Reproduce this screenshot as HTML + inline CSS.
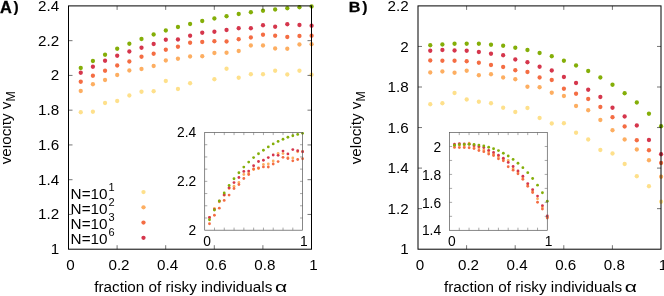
<!DOCTYPE html>
<html><head><meta charset="utf-8"><title>chart</title>
<style>html,body{margin:0;padding:0;background:#fff;}svg{display:block;will-change:transform;}text{font-family:"Liberation Sans", sans-serif;fill:#000;}</style></head><body>
<svg width="664" height="296" viewBox="0 0 664 296">
<rect width="664" height="296" fill="#fff"/>
<defs><clipPath id="clipA"><rect x="2.9" y="0" width="40" height="296"/></clipPath></defs>
<circle cx="80.75" cy="112.25" r="2.15" fill="#fee08b"/>
<circle cx="92.90" cy="111.75" r="2.15" fill="#fee08b"/>
<circle cx="105.05" cy="103.00" r="2.15" fill="#fee08b"/>
<circle cx="117.20" cy="101.00" r="2.15" fill="#fee08b"/>
<circle cx="129.35" cy="95.50" r="2.15" fill="#fee08b"/>
<circle cx="141.50" cy="91.75" r="2.15" fill="#fee08b"/>
<circle cx="153.65" cy="91.25" r="2.15" fill="#fee08b"/>
<circle cx="165.80" cy="81.00" r="2.15" fill="#fee08b"/>
<circle cx="177.95" cy="89.00" r="2.15" fill="#fee08b"/>
<circle cx="190.10" cy="83.25" r="2.15" fill="#fee08b"/>
<circle cx="214.40" cy="79.25" r="2.15" fill="#fee08b"/>
<circle cx="226.55" cy="68.75" r="2.15" fill="#fee08b"/>
<circle cx="238.70" cy="77.75" r="2.15" fill="#fee08b"/>
<circle cx="250.85" cy="74.25" r="2.15" fill="#fee08b"/>
<circle cx="263.00" cy="74.25" r="2.15" fill="#fee08b"/>
<circle cx="275.15" cy="70.75" r="2.15" fill="#fee08b"/>
<circle cx="287.30" cy="74.50" r="2.15" fill="#fee08b"/>
<circle cx="299.45" cy="70.75" r="2.15" fill="#fee08b"/>
<circle cx="311.60" cy="74.75" r="2.15" fill="#fee08b"/>
<circle cx="80.75" cy="91.00" r="2.15" fill="#fdae61"/>
<circle cx="92.90" cy="84.25" r="2.15" fill="#fdae61"/>
<circle cx="105.05" cy="80.00" r="2.15" fill="#fdae61"/>
<circle cx="117.20" cy="75.00" r="2.15" fill="#fdae61"/>
<circle cx="129.35" cy="70.50" r="2.15" fill="#fdae61"/>
<circle cx="141.50" cy="69.00" r="2.15" fill="#fdae61"/>
<circle cx="153.65" cy="66.00" r="2.15" fill="#fdae61"/>
<circle cx="165.80" cy="60.50" r="2.15" fill="#fdae61"/>
<circle cx="177.95" cy="58.75" r="2.15" fill="#fdae61"/>
<circle cx="190.10" cy="56.50" r="2.15" fill="#fdae61"/>
<circle cx="202.25" cy="56.25" r="2.15" fill="#fdae61"/>
<circle cx="214.40" cy="53.00" r="2.15" fill="#fdae61"/>
<circle cx="226.55" cy="52.75" r="2.15" fill="#fdae61"/>
<circle cx="238.70" cy="51.00" r="2.15" fill="#fdae61"/>
<circle cx="250.85" cy="45.50" r="2.15" fill="#fdae61"/>
<circle cx="263.00" cy="45.50" r="2.15" fill="#fdae61"/>
<circle cx="275.15" cy="48.50" r="2.15" fill="#fdae61"/>
<circle cx="287.30" cy="48.75" r="2.15" fill="#fdae61"/>
<circle cx="299.45" cy="44.50" r="2.15" fill="#fdae61"/>
<circle cx="311.60" cy="44.25" r="2.15" fill="#fdae61"/>
<circle cx="80.75" cy="81.75" r="2.15" fill="#f46d43"/>
<circle cx="92.90" cy="75.75" r="2.15" fill="#f46d43"/>
<circle cx="105.05" cy="70.75" r="2.15" fill="#f46d43"/>
<circle cx="117.20" cy="65.50" r="2.15" fill="#f46d43"/>
<circle cx="129.35" cy="61.50" r="2.15" fill="#f46d43"/>
<circle cx="141.50" cy="56.75" r="2.15" fill="#f46d43"/>
<circle cx="153.65" cy="53.75" r="2.15" fill="#f46d43"/>
<circle cx="165.80" cy="49.75" r="2.15" fill="#f46d43"/>
<circle cx="177.95" cy="46.75" r="2.15" fill="#f46d43"/>
<circle cx="190.10" cy="42.75" r="2.15" fill="#f46d43"/>
<circle cx="202.25" cy="42.00" r="2.15" fill="#f46d43"/>
<circle cx="214.40" cy="41.25" r="2.15" fill="#f46d43"/>
<circle cx="226.55" cy="41.50" r="2.15" fill="#f46d43"/>
<circle cx="238.70" cy="39.25" r="2.15" fill="#f46d43"/>
<circle cx="250.85" cy="37.50" r="2.15" fill="#f46d43"/>
<circle cx="263.00" cy="34.75" r="2.15" fill="#f46d43"/>
<circle cx="275.15" cy="35.75" r="2.15" fill="#f46d43"/>
<circle cx="287.30" cy="37.00" r="2.15" fill="#f46d43"/>
<circle cx="299.45" cy="36.00" r="2.15" fill="#f46d43"/>
<circle cx="311.60" cy="35.75" r="2.15" fill="#f46d43"/>
<circle cx="80.75" cy="72.75" r="2.15" fill="#d5364c"/>
<circle cx="92.90" cy="66.75" r="2.15" fill="#d5364c"/>
<circle cx="105.05" cy="60.75" r="2.15" fill="#d5364c"/>
<circle cx="117.20" cy="55.75" r="2.15" fill="#d5364c"/>
<circle cx="129.35" cy="51.50" r="2.15" fill="#d5364c"/>
<circle cx="141.50" cy="47.75" r="2.15" fill="#d5364c"/>
<circle cx="153.65" cy="44.00" r="2.15" fill="#d5364c"/>
<circle cx="165.80" cy="39.75" r="2.15" fill="#d5364c"/>
<circle cx="177.95" cy="39.50" r="2.15" fill="#d5364c"/>
<circle cx="190.10" cy="35.75" r="2.15" fill="#d5364c"/>
<circle cx="202.25" cy="32.75" r="2.15" fill="#d5364c"/>
<circle cx="214.40" cy="31.75" r="2.15" fill="#d5364c"/>
<circle cx="226.55" cy="30.00" r="2.15" fill="#d5364c"/>
<circle cx="238.70" cy="28.25" r="2.15" fill="#d5364c"/>
<circle cx="250.85" cy="28.25" r="2.15" fill="#d5364c"/>
<circle cx="263.00" cy="25.25" r="2.15" fill="#d5364c"/>
<circle cx="275.15" cy="26.75" r="2.15" fill="#d5364c"/>
<circle cx="287.30" cy="24.25" r="2.15" fill="#d5364c"/>
<circle cx="299.45" cy="25.00" r="2.15" fill="#d5364c"/>
<circle cx="311.60" cy="25.75" r="2.15" fill="#d5364c"/>
<circle cx="80.75" cy="68.00" r="2.15" fill="#84ae08"/>
<circle cx="92.90" cy="61.00" r="2.15" fill="#84ae08"/>
<circle cx="105.05" cy="54.75" r="2.15" fill="#84ae08"/>
<circle cx="117.20" cy="48.75" r="2.15" fill="#84ae08"/>
<circle cx="129.35" cy="43.75" r="2.15" fill="#84ae08"/>
<circle cx="141.50" cy="39.00" r="2.15" fill="#84ae08"/>
<circle cx="153.65" cy="34.50" r="2.15" fill="#84ae08"/>
<circle cx="165.80" cy="30.50" r="2.15" fill="#84ae08"/>
<circle cx="177.95" cy="27.00" r="2.15" fill="#84ae08"/>
<circle cx="190.10" cy="24.00" r="2.15" fill="#84ae08"/>
<circle cx="202.25" cy="21.00" r="2.15" fill="#84ae08"/>
<circle cx="214.40" cy="18.50" r="2.15" fill="#84ae08"/>
<circle cx="226.55" cy="16.25" r="2.15" fill="#84ae08"/>
<circle cx="238.70" cy="14.00" r="2.15" fill="#84ae08"/>
<circle cx="250.85" cy="12.25" r="2.15" fill="#84ae08"/>
<circle cx="263.00" cy="10.75" r="2.15" fill="#84ae08"/>
<circle cx="275.15" cy="9.50" r="2.15" fill="#84ae08"/>
<circle cx="287.30" cy="8.25" r="2.15" fill="#84ae08"/>
<circle cx="299.45" cy="7.25" r="2.15" fill="#84ae08"/>
<circle cx="311.60" cy="6.50" r="2.15" fill="#84ae08"/>
<text x="59.10" y="10.95" font-size="15.2" text-anchor="end" font-weight="normal" >2.4</text>
<line x1="68.50" y1="40.66" x2="72.50" y2="40.66" stroke="#000" stroke-width="0.55"/>
<line x1="307.50" y1="40.66" x2="311.50" y2="40.66" stroke="#000" stroke-width="0.55"/>
<text x="59.10" y="45.71" font-size="15.2" text-anchor="end" font-weight="normal" >2.2</text>
<line x1="68.50" y1="75.41" x2="72.50" y2="75.41" stroke="#000" stroke-width="0.55"/>
<line x1="307.50" y1="75.41" x2="311.50" y2="75.41" stroke="#000" stroke-width="0.55"/>
<text x="59.10" y="80.46" font-size="15.2" text-anchor="end" font-weight="normal" >2</text>
<line x1="68.50" y1="110.17" x2="72.50" y2="110.17" stroke="#000" stroke-width="0.55"/>
<line x1="307.50" y1="110.17" x2="311.50" y2="110.17" stroke="#000" stroke-width="0.55"/>
<text x="59.10" y="115.22" font-size="15.2" text-anchor="end" font-weight="normal" >1.8</text>
<line x1="68.50" y1="144.93" x2="72.50" y2="144.93" stroke="#000" stroke-width="0.55"/>
<line x1="307.50" y1="144.93" x2="311.50" y2="144.93" stroke="#000" stroke-width="0.55"/>
<text x="59.10" y="149.98" font-size="15.2" text-anchor="end" font-weight="normal" >1.6</text>
<line x1="68.50" y1="179.69" x2="72.50" y2="179.69" stroke="#000" stroke-width="0.55"/>
<line x1="307.50" y1="179.69" x2="311.50" y2="179.69" stroke="#000" stroke-width="0.55"/>
<text x="59.10" y="184.74" font-size="15.2" text-anchor="end" font-weight="normal" >1.4</text>
<line x1="68.50" y1="214.44" x2="72.50" y2="214.44" stroke="#000" stroke-width="0.55"/>
<line x1="307.50" y1="214.44" x2="311.50" y2="214.44" stroke="#000" stroke-width="0.55"/>
<text x="59.10" y="219.49" font-size="15.2" text-anchor="end" font-weight="normal" >1.2</text>
<text x="59.10" y="254.25" font-size="15.2" text-anchor="end" font-weight="normal" >1</text>
<text x="70.40" y="269.90" font-size="15.2" text-anchor="middle" font-weight="normal" >0</text>
<line x1="117.10" y1="249.20" x2="117.10" y2="245.20" stroke="#000" stroke-width="0.55"/>
<line x1="117.10" y1="5.90" x2="117.10" y2="9.90" stroke="#000" stroke-width="0.55"/>
<text x="119.00" y="269.90" font-size="15.2" text-anchor="middle" font-weight="normal" >0.2</text>
<line x1="165.70" y1="249.20" x2="165.70" y2="245.20" stroke="#000" stroke-width="0.55"/>
<line x1="165.70" y1="5.90" x2="165.70" y2="9.90" stroke="#000" stroke-width="0.55"/>
<text x="167.60" y="269.90" font-size="15.2" text-anchor="middle" font-weight="normal" >0.4</text>
<line x1="214.30" y1="249.20" x2="214.30" y2="245.20" stroke="#000" stroke-width="0.55"/>
<line x1="214.30" y1="5.90" x2="214.30" y2="9.90" stroke="#000" stroke-width="0.55"/>
<text x="216.20" y="269.90" font-size="15.2" text-anchor="middle" font-weight="normal" >0.6</text>
<line x1="262.90" y1="249.20" x2="262.90" y2="245.20" stroke="#000" stroke-width="0.55"/>
<line x1="262.90" y1="5.90" x2="262.90" y2="9.90" stroke="#000" stroke-width="0.55"/>
<text x="264.80" y="269.90" font-size="15.2" text-anchor="middle" font-weight="normal" >0.8</text>
<text x="313.40" y="269.90" font-size="15.2" text-anchor="middle" font-weight="normal" >1</text>
<rect x="68.50" y="5.90" width="243.00" height="243.30" fill="none" stroke="#000" stroke-width="1"/>
<text x="70.6" y="198.50" font-size="15.3">N=10<tspan dy="-7.9" dx="0.8" font-size="11">1</tspan></text>
<circle cx="143.5" cy="192.10" r="2.15" fill="#fee08b"/>
<text x="70.6" y="213.75" font-size="15.3">N=10<tspan dy="-7.9" dx="0.8" font-size="11">2</tspan></text>
<circle cx="143.5" cy="207.35" r="2.15" fill="#fdae61"/>
<text x="70.6" y="229.00" font-size="15.3">N=10<tspan dy="-7.9" dx="0.8" font-size="11">3</tspan></text>
<circle cx="143.5" cy="222.60" r="2.15" fill="#f46d43"/>
<text x="70.6" y="244.25" font-size="15.3">N=10<tspan dy="-7.9" dx="0.8" font-size="11">6</tspan></text>
<circle cx="143.5" cy="237.85" r="2.15" fill="#d5364c"/>
<circle cx="209.50" cy="217.50" r="1.4" fill="#fdae61"/>
<circle cx="214.40" cy="208.30" r="1.4" fill="#fdae61"/>
<circle cx="219.30" cy="201.90" r="1.4" fill="#fdae61"/>
<circle cx="224.20" cy="195.25" r="1.4" fill="#fdae61"/>
<circle cx="229.10" cy="188.50" r="1.4" fill="#fdae61"/>
<circle cx="234.00" cy="186.25" r="1.4" fill="#fdae61"/>
<circle cx="238.90" cy="182.40" r="1.4" fill="#fdae61"/>
<circle cx="243.80" cy="174.50" r="1.4" fill="#fdae61"/>
<circle cx="248.70" cy="172.90" r="1.4" fill="#fdae61"/>
<circle cx="253.60" cy="169.50" r="1.4" fill="#fdae61"/>
<circle cx="258.50" cy="168.50" r="1.4" fill="#fdae61"/>
<circle cx="263.40" cy="164.40" r="1.4" fill="#fdae61"/>
<circle cx="268.30" cy="164.00" r="1.4" fill="#fdae61"/>
<circle cx="273.20" cy="161.00" r="1.4" fill="#fdae61"/>
<circle cx="278.10" cy="153.50" r="1.4" fill="#fdae61"/>
<circle cx="283.00" cy="153.60" r="1.4" fill="#fdae61"/>
<circle cx="287.90" cy="157.75" r="1.4" fill="#fdae61"/>
<circle cx="292.80" cy="158.00" r="1.4" fill="#fdae61"/>
<circle cx="297.70" cy="151.75" r="1.4" fill="#fdae61"/>
<circle cx="302.60" cy="151.50" r="1.4" fill="#fdae61"/>
<circle cx="209.50" cy="223.75" r="1.4" fill="#f46d43"/>
<circle cx="214.40" cy="215.25" r="1.4" fill="#f46d43"/>
<circle cx="219.30" cy="208.20" r="1.4" fill="#f46d43"/>
<circle cx="224.20" cy="200.40" r="1.4" fill="#f46d43"/>
<circle cx="229.10" cy="195.10" r="1.4" fill="#f46d43"/>
<circle cx="234.00" cy="188.50" r="1.4" fill="#f46d43"/>
<circle cx="238.90" cy="184.50" r="1.4" fill="#f46d43"/>
<circle cx="243.80" cy="178.50" r="1.4" fill="#f46d43"/>
<circle cx="248.70" cy="174.50" r="1.4" fill="#f46d43"/>
<circle cx="253.60" cy="169.00" r="1.4" fill="#f46d43"/>
<circle cx="258.50" cy="168.00" r="1.4" fill="#f46d43"/>
<circle cx="263.40" cy="166.90" r="1.4" fill="#f46d43"/>
<circle cx="268.30" cy="167.00" r="1.4" fill="#f46d43"/>
<circle cx="273.20" cy="164.00" r="1.4" fill="#f46d43"/>
<circle cx="278.10" cy="161.60" r="1.4" fill="#f46d43"/>
<circle cx="283.00" cy="157.30" r="1.4" fill="#f46d43"/>
<circle cx="287.90" cy="158.50" r="1.4" fill="#f46d43"/>
<circle cx="292.80" cy="160.80" r="1.4" fill="#f46d43"/>
<circle cx="297.70" cy="159.50" r="1.4" fill="#f46d43"/>
<circle cx="302.60" cy="158.75" r="1.4" fill="#f46d43"/>
<circle cx="209.50" cy="217.50" r="1.4" fill="#d5364c"/>
<circle cx="214.40" cy="209.40" r="1.4" fill="#d5364c"/>
<circle cx="219.30" cy="201.10" r="1.4" fill="#d5364c"/>
<circle cx="224.20" cy="194.75" r="1.4" fill="#d5364c"/>
<circle cx="229.10" cy="187.75" r="1.4" fill="#d5364c"/>
<circle cx="234.00" cy="182.60" r="1.4" fill="#d5364c"/>
<circle cx="238.90" cy="177.50" r="1.4" fill="#d5364c"/>
<circle cx="243.80" cy="171.40" r="1.4" fill="#d5364c"/>
<circle cx="248.70" cy="171.10" r="1.4" fill="#d5364c"/>
<circle cx="253.60" cy="165.75" r="1.4" fill="#d5364c"/>
<circle cx="258.50" cy="161.50" r="1.4" fill="#d5364c"/>
<circle cx="263.40" cy="160.25" r="1.4" fill="#d5364c"/>
<circle cx="268.30" cy="157.60" r="1.4" fill="#d5364c"/>
<circle cx="273.20" cy="155.00" r="1.4" fill="#d5364c"/>
<circle cx="278.10" cy="155.30" r="1.4" fill="#d5364c"/>
<circle cx="283.00" cy="151.10" r="1.4" fill="#d5364c"/>
<circle cx="287.90" cy="153.90" r="1.4" fill="#d5364c"/>
<circle cx="292.80" cy="149.60" r="1.4" fill="#d5364c"/>
<circle cx="297.70" cy="150.75" r="1.4" fill="#d5364c"/>
<circle cx="302.60" cy="151.75" r="1.4" fill="#d5364c"/>
<circle cx="209.50" cy="219.75" r="1.4" fill="#84ae08"/>
<circle cx="214.40" cy="210.00" r="1.4" fill="#84ae08"/>
<circle cx="219.30" cy="201.00" r="1.4" fill="#84ae08"/>
<circle cx="224.20" cy="193.00" r="1.4" fill="#84ae08"/>
<circle cx="229.10" cy="185.50" r="1.4" fill="#84ae08"/>
<circle cx="234.00" cy="178.75" r="1.4" fill="#84ae08"/>
<circle cx="238.90" cy="172.75" r="1.4" fill="#84ae08"/>
<circle cx="243.80" cy="167.10" r="1.4" fill="#84ae08"/>
<circle cx="248.70" cy="162.10" r="1.4" fill="#84ae08"/>
<circle cx="253.60" cy="157.60" r="1.4" fill="#84ae08"/>
<circle cx="258.50" cy="153.75" r="1.4" fill="#84ae08"/>
<circle cx="263.40" cy="150.25" r="1.4" fill="#84ae08"/>
<circle cx="268.30" cy="146.90" r="1.4" fill="#84ae08"/>
<circle cx="273.20" cy="143.90" r="1.4" fill="#84ae08"/>
<circle cx="278.10" cy="141.40" r="1.4" fill="#84ae08"/>
<circle cx="283.00" cy="139.25" r="1.4" fill="#84ae08"/>
<circle cx="287.90" cy="137.25" r="1.4" fill="#84ae08"/>
<circle cx="292.80" cy="135.75" r="1.4" fill="#84ae08"/>
<circle cx="297.70" cy="134.40" r="1.4" fill="#84ae08"/>
<circle cx="302.60" cy="133.30" r="1.4" fill="#84ae08"/>
<line x1="204.70" y1="144.71" x2="207.30" y2="144.71" stroke="#555" stroke-width="0.5"/>
<line x1="300.00" y1="144.71" x2="302.60" y2="144.71" stroke="#555" stroke-width="0.5"/>
<line x1="204.70" y1="156.93" x2="207.30" y2="156.93" stroke="#555" stroke-width="0.5"/>
<line x1="300.00" y1="156.93" x2="302.60" y2="156.93" stroke="#555" stroke-width="0.5"/>
<line x1="204.70" y1="169.14" x2="207.30" y2="169.14" stroke="#555" stroke-width="0.5"/>
<line x1="300.00" y1="169.14" x2="302.60" y2="169.14" stroke="#555" stroke-width="0.5"/>
<line x1="204.70" y1="181.35" x2="207.30" y2="181.35" stroke="#555" stroke-width="0.5"/>
<line x1="300.00" y1="181.35" x2="302.60" y2="181.35" stroke="#555" stroke-width="0.5"/>
<line x1="204.70" y1="193.56" x2="207.30" y2="193.56" stroke="#555" stroke-width="0.5"/>
<line x1="300.00" y1="193.56" x2="302.60" y2="193.56" stroke="#555" stroke-width="0.5"/>
<line x1="204.70" y1="205.77" x2="207.30" y2="205.77" stroke="#555" stroke-width="0.5"/>
<line x1="300.00" y1="205.77" x2="302.60" y2="205.77" stroke="#555" stroke-width="0.5"/>
<line x1="204.70" y1="217.99" x2="207.30" y2="217.99" stroke="#555" stroke-width="0.5"/>
<line x1="300.00" y1="217.99" x2="302.60" y2="217.99" stroke="#555" stroke-width="0.5"/>
<line x1="214.49" y1="230.20" x2="214.49" y2="227.60" stroke="#555" stroke-width="0.5"/>
<line x1="214.49" y1="132.50" x2="214.49" y2="135.10" stroke="#555" stroke-width="0.5"/>
<line x1="224.28" y1="230.20" x2="224.28" y2="227.60" stroke="#555" stroke-width="0.5"/>
<line x1="224.28" y1="132.50" x2="224.28" y2="135.10" stroke="#555" stroke-width="0.5"/>
<line x1="234.07" y1="230.20" x2="234.07" y2="227.60" stroke="#555" stroke-width="0.5"/>
<line x1="234.07" y1="132.50" x2="234.07" y2="135.10" stroke="#555" stroke-width="0.5"/>
<line x1="243.86" y1="230.20" x2="243.86" y2="227.60" stroke="#555" stroke-width="0.5"/>
<line x1="243.86" y1="132.50" x2="243.86" y2="135.10" stroke="#555" stroke-width="0.5"/>
<line x1="253.65" y1="230.20" x2="253.65" y2="227.60" stroke="#555" stroke-width="0.5"/>
<line x1="253.65" y1="132.50" x2="253.65" y2="135.10" stroke="#555" stroke-width="0.5"/>
<line x1="263.44" y1="230.20" x2="263.44" y2="227.60" stroke="#555" stroke-width="0.5"/>
<line x1="263.44" y1="132.50" x2="263.44" y2="135.10" stroke="#555" stroke-width="0.5"/>
<line x1="273.23" y1="230.20" x2="273.23" y2="227.60" stroke="#555" stroke-width="0.5"/>
<line x1="273.23" y1="132.50" x2="273.23" y2="135.10" stroke="#555" stroke-width="0.5"/>
<line x1="283.02" y1="230.20" x2="283.02" y2="227.60" stroke="#555" stroke-width="0.5"/>
<line x1="283.02" y1="132.50" x2="283.02" y2="135.10" stroke="#555" stroke-width="0.5"/>
<line x1="292.81" y1="230.20" x2="292.81" y2="227.60" stroke="#555" stroke-width="0.5"/>
<line x1="292.81" y1="132.50" x2="292.81" y2="135.10" stroke="#555" stroke-width="0.5"/>
<text x="196.30" y="137.40" font-size="13.8" text-anchor="end" font-weight="normal" >2.4</text>
<text x="196.30" y="186.30" font-size="13.8" text-anchor="end" font-weight="normal" >2.2</text>
<text x="196.30" y="235.20" font-size="13.8" text-anchor="end" font-weight="normal" >2</text>
<text x="207.10" y="245.90" font-size="13.8" text-anchor="middle" font-weight="normal" >0</text>
<text x="303.90" y="245.90" font-size="13.8" text-anchor="middle" font-weight="normal" >1</text>
<rect x="204.70" y="132.50" width="97.90" height="97.70" fill="none" stroke="#555" stroke-width="0.7"/>
<g transform="translate(0.1,12.5) scale(1.03,1)"><text x="0" y="0" font-size="15.9" font-weight="bold" stroke="#000" stroke-width="0.3">A</text><text x="13.0" y="-0.5" font-size="15" font-weight="bold" stroke="#000" stroke-width="0.2">)</text></g>
<text x="94.30" y="292.00" font-size="15.25" text-anchor="start" font-weight="normal" >fraction of risky individuals</text>
<g transform="translate(275.00,292.0) scale(1.38,1)"><text x="0" y="0" font-size="15.25">α</text></g>
<g clip-path="url(#clipA)"><text transform="translate(11.30,164.3) rotate(-90)" font-size="15.25" text-anchor="start">velocity v<tspan dy="4.0" font-size="12.3">M</tspan></text></g>
<circle cx="430.25" cy="104.25" r="2.15" fill="#fee08b"/>
<circle cx="442.40" cy="103.25" r="2.15" fill="#fee08b"/>
<circle cx="454.55" cy="93.00" r="2.15" fill="#fee08b"/>
<circle cx="466.70" cy="99.50" r="2.15" fill="#fee08b"/>
<circle cx="478.85" cy="101.75" r="2.15" fill="#fee08b"/>
<circle cx="491.00" cy="103.25" r="2.15" fill="#fee08b"/>
<circle cx="503.15" cy="107.75" r="2.15" fill="#fee08b"/>
<circle cx="515.30" cy="112.00" r="2.15" fill="#fee08b"/>
<circle cx="527.45" cy="108.00" r="2.15" fill="#fee08b"/>
<circle cx="539.60" cy="118.00" r="2.15" fill="#fee08b"/>
<circle cx="551.75" cy="123.50" r="2.15" fill="#fee08b"/>
<circle cx="563.90" cy="123.25" r="2.15" fill="#fee08b"/>
<circle cx="576.05" cy="132.75" r="2.15" fill="#fee08b"/>
<circle cx="588.20" cy="139.50" r="2.15" fill="#fee08b"/>
<circle cx="600.35" cy="150.00" r="2.15" fill="#fee08b"/>
<circle cx="612.50" cy="153.50" r="2.15" fill="#fee08b"/>
<circle cx="624.65" cy="164.00" r="2.15" fill="#fee08b"/>
<circle cx="636.80" cy="176.25" r="2.15" fill="#fee08b"/>
<circle cx="648.95" cy="186.25" r="2.15" fill="#fee08b"/>
<circle cx="661.10" cy="201.75" r="2.15" fill="#fee08b"/>
<circle cx="430.25" cy="72.50" r="2.15" fill="#fdae61"/>
<circle cx="442.40" cy="71.50" r="2.15" fill="#fdae61"/>
<circle cx="454.55" cy="72.75" r="2.15" fill="#fdae61"/>
<circle cx="466.70" cy="70.75" r="2.15" fill="#fdae61"/>
<circle cx="478.85" cy="75.25" r="2.15" fill="#fdae61"/>
<circle cx="491.00" cy="74.25" r="2.15" fill="#fdae61"/>
<circle cx="503.15" cy="77.50" r="2.15" fill="#fdae61"/>
<circle cx="515.30" cy="79.25" r="2.15" fill="#fdae61"/>
<circle cx="527.45" cy="86.75" r="2.15" fill="#fdae61"/>
<circle cx="539.60" cy="87.25" r="2.15" fill="#fdae61"/>
<circle cx="551.75" cy="92.75" r="2.15" fill="#fdae61"/>
<circle cx="563.90" cy="96.00" r="2.15" fill="#fdae61"/>
<circle cx="576.05" cy="106.00" r="2.15" fill="#fdae61"/>
<circle cx="588.20" cy="110.25" r="2.15" fill="#fdae61"/>
<circle cx="600.35" cy="120.00" r="2.15" fill="#fdae61"/>
<circle cx="612.50" cy="130.25" r="2.15" fill="#fdae61"/>
<circle cx="624.65" cy="139.50" r="2.15" fill="#fdae61"/>
<circle cx="636.80" cy="149.50" r="2.15" fill="#fdae61"/>
<circle cx="648.95" cy="160.25" r="2.15" fill="#fdae61"/>
<circle cx="661.10" cy="176.75" r="2.15" fill="#fdae61"/>
<circle cx="430.25" cy="60.50" r="2.15" fill="#f46d43"/>
<circle cx="442.40" cy="60.75" r="2.15" fill="#f46d43"/>
<circle cx="454.55" cy="60.75" r="2.15" fill="#f46d43"/>
<circle cx="466.70" cy="61.25" r="2.15" fill="#f46d43"/>
<circle cx="478.85" cy="62.75" r="2.15" fill="#f46d43"/>
<circle cx="491.00" cy="65.00" r="2.15" fill="#f46d43"/>
<circle cx="503.15" cy="67.00" r="2.15" fill="#f46d43"/>
<circle cx="515.30" cy="70.25" r="2.15" fill="#f46d43"/>
<circle cx="527.45" cy="72.00" r="2.15" fill="#f46d43"/>
<circle cx="539.60" cy="77.50" r="2.15" fill="#f46d43"/>
<circle cx="551.75" cy="80.00" r="2.15" fill="#f46d43"/>
<circle cx="563.90" cy="88.75" r="2.15" fill="#f46d43"/>
<circle cx="576.05" cy="93.75" r="2.15" fill="#f46d43"/>
<circle cx="588.20" cy="99.00" r="2.15" fill="#f46d43"/>
<circle cx="600.35" cy="107.00" r="2.15" fill="#f46d43"/>
<circle cx="612.50" cy="117.25" r="2.15" fill="#f46d43"/>
<circle cx="624.65" cy="126.50" r="2.15" fill="#f46d43"/>
<circle cx="636.80" cy="140.25" r="2.15" fill="#f46d43"/>
<circle cx="648.95" cy="150.25" r="2.15" fill="#f46d43"/>
<circle cx="661.10" cy="163.00" r="2.15" fill="#f46d43"/>
<circle cx="430.25" cy="50.75" r="2.15" fill="#d5364c"/>
<circle cx="442.40" cy="50.00" r="2.15" fill="#d5364c"/>
<circle cx="454.55" cy="50.50" r="2.15" fill="#d5364c"/>
<circle cx="466.70" cy="50.75" r="2.15" fill="#d5364c"/>
<circle cx="478.85" cy="52.00" r="2.15" fill="#d5364c"/>
<circle cx="491.00" cy="53.75" r="2.15" fill="#d5364c"/>
<circle cx="503.15" cy="55.25" r="2.15" fill="#d5364c"/>
<circle cx="515.30" cy="59.50" r="2.15" fill="#d5364c"/>
<circle cx="527.45" cy="62.25" r="2.15" fill="#d5364c"/>
<circle cx="539.60" cy="66.75" r="2.15" fill="#d5364c"/>
<circle cx="551.75" cy="70.50" r="2.15" fill="#d5364c"/>
<circle cx="563.90" cy="77.00" r="2.15" fill="#d5364c"/>
<circle cx="576.05" cy="83.00" r="2.15" fill="#d5364c"/>
<circle cx="588.20" cy="89.75" r="2.15" fill="#d5364c"/>
<circle cx="600.35" cy="97.00" r="2.15" fill="#d5364c"/>
<circle cx="612.50" cy="107.75" r="2.15" fill="#d5364c"/>
<circle cx="624.65" cy="116.50" r="2.15" fill="#d5364c"/>
<circle cx="636.80" cy="125.50" r="2.15" fill="#d5364c"/>
<circle cx="648.95" cy="140.00" r="2.15" fill="#d5364c"/>
<circle cx="661.10" cy="154.25" r="2.15" fill="#d5364c"/>
<circle cx="430.25" cy="45.25" r="2.15" fill="#84ae08"/>
<circle cx="442.40" cy="44.50" r="2.15" fill="#84ae08"/>
<circle cx="454.55" cy="43.75" r="2.15" fill="#84ae08"/>
<circle cx="466.70" cy="43.75" r="2.15" fill="#84ae08"/>
<circle cx="478.85" cy="43.75" r="2.15" fill="#84ae08"/>
<circle cx="491.00" cy="44.75" r="2.15" fill="#84ae08"/>
<circle cx="503.15" cy="45.75" r="2.15" fill="#84ae08"/>
<circle cx="515.30" cy="47.75" r="2.15" fill="#84ae08"/>
<circle cx="527.45" cy="50.00" r="2.15" fill="#84ae08"/>
<circle cx="539.60" cy="53.00" r="2.15" fill="#84ae08"/>
<circle cx="551.75" cy="56.25" r="2.15" fill="#84ae08"/>
<circle cx="563.90" cy="60.75" r="2.15" fill="#84ae08"/>
<circle cx="576.05" cy="65.50" r="2.15" fill="#84ae08"/>
<circle cx="588.20" cy="71.00" r="2.15" fill="#84ae08"/>
<circle cx="600.35" cy="77.50" r="2.15" fill="#84ae08"/>
<circle cx="612.50" cy="84.75" r="2.15" fill="#84ae08"/>
<circle cx="624.65" cy="93.25" r="2.15" fill="#84ae08"/>
<circle cx="636.80" cy="102.50" r="2.15" fill="#84ae08"/>
<circle cx="648.95" cy="113.75" r="2.15" fill="#84ae08"/>
<circle cx="661.10" cy="126.25" r="2.15" fill="#84ae08"/>
<text x="408.60" y="10.95" font-size="15.2" text-anchor="end" font-weight="normal" >2.2</text>
<line x1="418.00" y1="46.45" x2="422.00" y2="46.45" stroke="#000" stroke-width="0.55"/>
<line x1="657.00" y1="46.45" x2="661.00" y2="46.45" stroke="#000" stroke-width="0.55"/>
<text x="408.60" y="51.50" font-size="15.2" text-anchor="end" font-weight="normal" >2</text>
<line x1="418.00" y1="87.00" x2="422.00" y2="87.00" stroke="#000" stroke-width="0.55"/>
<line x1="657.00" y1="87.00" x2="661.00" y2="87.00" stroke="#000" stroke-width="0.55"/>
<text x="408.60" y="92.05" font-size="15.2" text-anchor="end" font-weight="normal" >1.8</text>
<line x1="418.00" y1="127.55" x2="422.00" y2="127.55" stroke="#000" stroke-width="0.55"/>
<line x1="657.00" y1="127.55" x2="661.00" y2="127.55" stroke="#000" stroke-width="0.55"/>
<text x="408.60" y="132.60" font-size="15.2" text-anchor="end" font-weight="normal" >1.6</text>
<line x1="418.00" y1="168.10" x2="422.00" y2="168.10" stroke="#000" stroke-width="0.55"/>
<line x1="657.00" y1="168.10" x2="661.00" y2="168.10" stroke="#000" stroke-width="0.55"/>
<text x="408.60" y="173.15" font-size="15.2" text-anchor="end" font-weight="normal" >1.4</text>
<line x1="418.00" y1="208.65" x2="422.00" y2="208.65" stroke="#000" stroke-width="0.55"/>
<line x1="657.00" y1="208.65" x2="661.00" y2="208.65" stroke="#000" stroke-width="0.55"/>
<text x="408.60" y="213.70" font-size="15.2" text-anchor="end" font-weight="normal" >1.2</text>
<text x="408.60" y="254.25" font-size="15.2" text-anchor="end" font-weight="normal" >1</text>
<text x="419.90" y="269.90" font-size="15.2" text-anchor="middle" font-weight="normal" >0</text>
<line x1="466.60" y1="249.20" x2="466.60" y2="245.20" stroke="#000" stroke-width="0.55"/>
<line x1="466.60" y1="5.90" x2="466.60" y2="9.90" stroke="#000" stroke-width="0.55"/>
<text x="468.50" y="269.90" font-size="15.2" text-anchor="middle" font-weight="normal" >0.2</text>
<line x1="515.20" y1="249.20" x2="515.20" y2="245.20" stroke="#000" stroke-width="0.55"/>
<line x1="515.20" y1="5.90" x2="515.20" y2="9.90" stroke="#000" stroke-width="0.55"/>
<text x="517.10" y="269.90" font-size="15.2" text-anchor="middle" font-weight="normal" >0.4</text>
<line x1="563.80" y1="249.20" x2="563.80" y2="245.20" stroke="#000" stroke-width="0.55"/>
<line x1="563.80" y1="5.90" x2="563.80" y2="9.90" stroke="#000" stroke-width="0.55"/>
<text x="565.70" y="269.90" font-size="15.2" text-anchor="middle" font-weight="normal" >0.6</text>
<line x1="612.40" y1="249.20" x2="612.40" y2="245.20" stroke="#000" stroke-width="0.55"/>
<line x1="612.40" y1="5.90" x2="612.40" y2="9.90" stroke="#000" stroke-width="0.55"/>
<text x="614.30" y="269.90" font-size="15.2" text-anchor="middle" font-weight="normal" >0.8</text>
<text x="662.90" y="269.90" font-size="15.2" text-anchor="middle" font-weight="normal" >1</text>
<rect x="418.00" y="5.90" width="243.00" height="243.30" fill="none" stroke="#000" stroke-width="1"/>
<circle cx="454.49" cy="146.00" r="1.4" fill="#fdae61"/>
<circle cx="459.37" cy="145.50" r="1.4" fill="#fdae61"/>
<circle cx="464.25" cy="146.00" r="1.4" fill="#fdae61"/>
<circle cx="469.14" cy="143.25" r="1.4" fill="#fdae61"/>
<circle cx="474.03" cy="147.00" r="1.4" fill="#fdae61"/>
<circle cx="478.91" cy="148.00" r="1.4" fill="#fdae61"/>
<circle cx="483.80" cy="150.00" r="1.4" fill="#fdae61"/>
<circle cx="488.68" cy="152.00" r="1.4" fill="#fdae61"/>
<circle cx="493.57" cy="154.25" r="1.4" fill="#fdae61"/>
<circle cx="498.45" cy="157.00" r="1.4" fill="#fdae61"/>
<circle cx="503.34" cy="159.50" r="1.4" fill="#fdae61"/>
<circle cx="508.22" cy="160.50" r="1.4" fill="#fdae61"/>
<circle cx="513.11" cy="168.75" r="1.4" fill="#fdae61"/>
<circle cx="517.99" cy="172.00" r="1.4" fill="#fdae61"/>
<circle cx="522.88" cy="178.00" r="1.4" fill="#fdae61"/>
<circle cx="527.76" cy="185.00" r="1.4" fill="#fdae61"/>
<circle cx="532.64" cy="191.00" r="1.4" fill="#fdae61"/>
<circle cx="537.53" cy="198.75" r="1.4" fill="#fdae61"/>
<circle cx="542.41" cy="207.00" r="1.4" fill="#fdae61"/>
<circle cx="547.30" cy="217.25" r="1.4" fill="#fdae61"/>
<circle cx="454.49" cy="147.40" r="1.4" fill="#f46d43"/>
<circle cx="459.37" cy="147.60" r="1.4" fill="#f46d43"/>
<circle cx="464.25" cy="147.60" r="1.4" fill="#f46d43"/>
<circle cx="469.14" cy="147.75" r="1.4" fill="#f46d43"/>
<circle cx="474.03" cy="148.60" r="1.4" fill="#f46d43"/>
<circle cx="478.91" cy="150.50" r="1.4" fill="#f46d43"/>
<circle cx="483.80" cy="151.70" r="1.4" fill="#f46d43"/>
<circle cx="488.68" cy="154.00" r="1.4" fill="#f46d43"/>
<circle cx="493.57" cy="155.50" r="1.4" fill="#f46d43"/>
<circle cx="498.45" cy="158.80" r="1.4" fill="#f46d43"/>
<circle cx="503.34" cy="160.75" r="1.4" fill="#f46d43"/>
<circle cx="508.22" cy="166.75" r="1.4" fill="#f46d43"/>
<circle cx="513.11" cy="170.20" r="1.4" fill="#f46d43"/>
<circle cx="517.99" cy="173.75" r="1.4" fill="#f46d43"/>
<circle cx="522.88" cy="179.30" r="1.4" fill="#f46d43"/>
<circle cx="527.76" cy="186.25" r="1.4" fill="#f46d43"/>
<circle cx="532.64" cy="192.50" r="1.4" fill="#f46d43"/>
<circle cx="537.53" cy="202.25" r="1.4" fill="#f46d43"/>
<circle cx="542.41" cy="209.00" r="1.4" fill="#f46d43"/>
<circle cx="547.30" cy="218.00" r="1.4" fill="#f46d43"/>
<circle cx="454.49" cy="144.25" r="1.4" fill="#d5364c"/>
<circle cx="459.37" cy="143.60" r="1.4" fill="#d5364c"/>
<circle cx="464.25" cy="144.00" r="1.4" fill="#d5364c"/>
<circle cx="469.14" cy="144.20" r="1.4" fill="#d5364c"/>
<circle cx="474.03" cy="145.50" r="1.4" fill="#d5364c"/>
<circle cx="478.91" cy="146.50" r="1.4" fill="#d5364c"/>
<circle cx="483.80" cy="147.60" r="1.4" fill="#d5364c"/>
<circle cx="488.68" cy="150.30" r="1.4" fill="#d5364c"/>
<circle cx="493.57" cy="152.40" r="1.4" fill="#d5364c"/>
<circle cx="498.45" cy="155.25" r="1.4" fill="#d5364c"/>
<circle cx="503.34" cy="158.20" r="1.4" fill="#d5364c"/>
<circle cx="508.22" cy="162.40" r="1.4" fill="#d5364c"/>
<circle cx="513.11" cy="166.50" r="1.4" fill="#d5364c"/>
<circle cx="517.99" cy="170.90" r="1.4" fill="#d5364c"/>
<circle cx="522.88" cy="176.25" r="1.4" fill="#d5364c"/>
<circle cx="527.76" cy="183.60" r="1.4" fill="#d5364c"/>
<circle cx="532.64" cy="189.60" r="1.4" fill="#d5364c"/>
<circle cx="537.53" cy="196.10" r="1.4" fill="#d5364c"/>
<circle cx="542.41" cy="205.60" r="1.4" fill="#d5364c"/>
<circle cx="547.30" cy="216.00" r="1.4" fill="#d5364c"/>
<circle cx="454.49" cy="145.25" r="1.4" fill="#84ae08"/>
<circle cx="459.37" cy="144.60" r="1.4" fill="#84ae08"/>
<circle cx="464.25" cy="144.40" r="1.4" fill="#84ae08"/>
<circle cx="469.14" cy="144.25" r="1.4" fill="#84ae08"/>
<circle cx="474.03" cy="144.50" r="1.4" fill="#84ae08"/>
<circle cx="478.91" cy="145.10" r="1.4" fill="#84ae08"/>
<circle cx="483.80" cy="146.00" r="1.4" fill="#84ae08"/>
<circle cx="488.68" cy="147.25" r="1.4" fill="#84ae08"/>
<circle cx="493.57" cy="148.75" r="1.4" fill="#84ae08"/>
<circle cx="498.45" cy="150.60" r="1.4" fill="#84ae08"/>
<circle cx="503.34" cy="153.25" r="1.4" fill="#84ae08"/>
<circle cx="508.22" cy="156.00" r="1.4" fill="#84ae08"/>
<circle cx="513.11" cy="159.40" r="1.4" fill="#84ae08"/>
<circle cx="517.99" cy="163.25" r="1.4" fill="#84ae08"/>
<circle cx="522.88" cy="167.70" r="1.4" fill="#84ae08"/>
<circle cx="527.76" cy="172.70" r="1.4" fill="#84ae08"/>
<circle cx="532.64" cy="178.50" r="1.4" fill="#84ae08"/>
<circle cx="537.53" cy="185.20" r="1.4" fill="#84ae08"/>
<circle cx="542.41" cy="192.75" r="1.4" fill="#84ae08"/>
<circle cx="547.30" cy="201.25" r="1.4" fill="#84ae08"/>
<line x1="449.50" y1="146.47" x2="452.10" y2="146.47" stroke="#555" stroke-width="0.5"/>
<line x1="544.70" y1="146.47" x2="547.30" y2="146.47" stroke="#555" stroke-width="0.5"/>
<line x1="449.50" y1="160.44" x2="452.10" y2="160.44" stroke="#555" stroke-width="0.5"/>
<line x1="544.70" y1="160.44" x2="547.30" y2="160.44" stroke="#555" stroke-width="0.5"/>
<line x1="449.50" y1="174.41" x2="452.10" y2="174.41" stroke="#555" stroke-width="0.5"/>
<line x1="544.70" y1="174.41" x2="547.30" y2="174.41" stroke="#555" stroke-width="0.5"/>
<line x1="449.50" y1="188.39" x2="452.10" y2="188.39" stroke="#555" stroke-width="0.5"/>
<line x1="544.70" y1="188.39" x2="547.30" y2="188.39" stroke="#555" stroke-width="0.5"/>
<line x1="449.50" y1="202.36" x2="452.10" y2="202.36" stroke="#555" stroke-width="0.5"/>
<line x1="544.70" y1="202.36" x2="547.30" y2="202.36" stroke="#555" stroke-width="0.5"/>
<line x1="449.50" y1="216.33" x2="452.10" y2="216.33" stroke="#555" stroke-width="0.5"/>
<line x1="544.70" y1="216.33" x2="547.30" y2="216.33" stroke="#555" stroke-width="0.5"/>
<line x1="459.28" y1="230.30" x2="459.28" y2="227.70" stroke="#555" stroke-width="0.5"/>
<line x1="459.28" y1="132.50" x2="459.28" y2="135.10" stroke="#555" stroke-width="0.5"/>
<line x1="469.06" y1="230.30" x2="469.06" y2="227.70" stroke="#555" stroke-width="0.5"/>
<line x1="469.06" y1="132.50" x2="469.06" y2="135.10" stroke="#555" stroke-width="0.5"/>
<line x1="478.84" y1="230.30" x2="478.84" y2="227.70" stroke="#555" stroke-width="0.5"/>
<line x1="478.84" y1="132.50" x2="478.84" y2="135.10" stroke="#555" stroke-width="0.5"/>
<line x1="488.62" y1="230.30" x2="488.62" y2="227.70" stroke="#555" stroke-width="0.5"/>
<line x1="488.62" y1="132.50" x2="488.62" y2="135.10" stroke="#555" stroke-width="0.5"/>
<line x1="498.40" y1="230.30" x2="498.40" y2="227.70" stroke="#555" stroke-width="0.5"/>
<line x1="498.40" y1="132.50" x2="498.40" y2="135.10" stroke="#555" stroke-width="0.5"/>
<line x1="508.18" y1="230.30" x2="508.18" y2="227.70" stroke="#555" stroke-width="0.5"/>
<line x1="508.18" y1="132.50" x2="508.18" y2="135.10" stroke="#555" stroke-width="0.5"/>
<line x1="517.96" y1="230.30" x2="517.96" y2="227.70" stroke="#555" stroke-width="0.5"/>
<line x1="517.96" y1="132.50" x2="517.96" y2="135.10" stroke="#555" stroke-width="0.5"/>
<line x1="527.74" y1="230.30" x2="527.74" y2="227.70" stroke="#555" stroke-width="0.5"/>
<line x1="527.74" y1="132.50" x2="527.74" y2="135.10" stroke="#555" stroke-width="0.5"/>
<line x1="537.52" y1="230.30" x2="537.52" y2="227.70" stroke="#555" stroke-width="0.5"/>
<line x1="537.52" y1="132.50" x2="537.52" y2="135.10" stroke="#555" stroke-width="0.5"/>
<text x="441.10" y="151.50" font-size="13.8" text-anchor="end" font-weight="normal" >2</text>
<text x="441.10" y="179.60" font-size="13.8" text-anchor="end" font-weight="normal" >1.8</text>
<text x="441.10" y="207.80" font-size="13.8" text-anchor="end" font-weight="normal" >1.6</text>
<text x="441.10" y="235.30" font-size="13.8" text-anchor="end" font-weight="normal" >1.4</text>
<text x="451.90" y="246.00" font-size="13.8" text-anchor="middle" font-weight="normal" >0</text>
<text x="548.60" y="246.00" font-size="13.8" text-anchor="middle" font-weight="normal" >1</text>
<rect x="449.50" y="132.50" width="97.80" height="97.80" fill="none" stroke="#555" stroke-width="0.7"/>
<g transform="translate(348.7,12.0) scale(1.05,1)"><text x="0" y="0" font-size="15.4" font-weight="bold" stroke="#000" stroke-width="0.3">B</text><text x="12.8" y="-0.4" font-size="15" font-weight="bold" stroke="#000" stroke-width="0.2">)</text></g>
<text x="444.05" y="292.00" font-size="15.25" text-anchor="start" font-weight="normal" >fraction of risky individuals</text>
<g transform="translate(624.75,292.0) scale(1.38,1)"><text x="0" y="0" font-size="15.25">α</text></g>
<g><text transform="translate(360.80,164.3) rotate(-90)" font-size="15.25" text-anchor="start">velocity v<tspan dy="4.0" font-size="12.3">M</tspan></text></g>
</svg></body></html>
